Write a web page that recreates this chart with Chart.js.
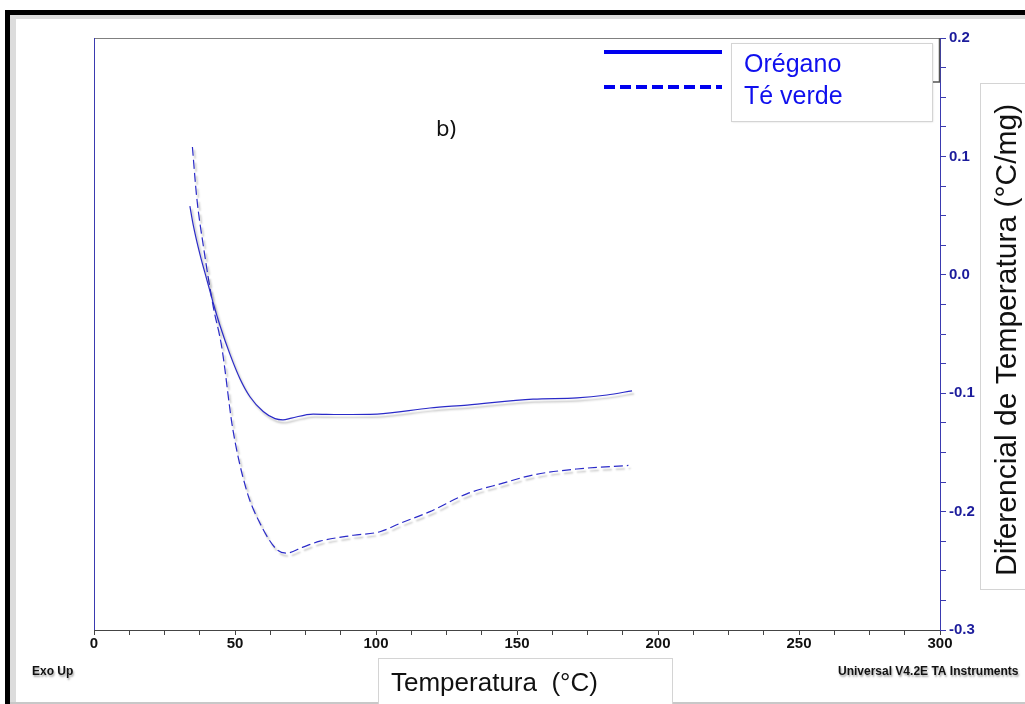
<!DOCTYPE html>
<html>
<head>
<meta charset="utf-8">
<script src="https://cdn.jsdelivr.net/npm/chart.js"></script>
<style>
  html, body { margin: 0; padding: 0; background: #fff; }
  #wrap { width: 1025px; height: 704px; position: relative; }
</style>
</head>
<body>
<div id="wrap"><canvas id="myChart"></canvas></div>
<script>
// temperatures (°C) and heat flow values
const oreganoTemp = [34.0, 35.2, 37.6, 40.0, 42.3, 44.7, 48.2, 51.8, 55.3, 60.0, 64.2, 67.0, 70.0, 77.7, 87.2, 100.4, 119.1, 132.3, 155.7, 171.3, 181.9, 190.8];
const oreganoVals = [0.058, 0.042, 0.017, -0.004, -0.024, -0.043, -0.067, -0.088, -0.103, -0.1155, -0.1215, -0.1225, -0.121, -0.1176, -0.118, -0.1176, -0.1125, -0.110, -0.105, -0.104, -0.1015, -0.098];

const teTemp = [34.9, 36.4, 38.8, 42.3, 45.3, 49.2, 54.1, 58.9, 64.8, 68.3, 74.1, 80.1, 92.0, 101.4, 108.5, 119.1, 132.2, 145.0, 155.8, 171.2, 189.5];
const teVals = [0.108, 0.066, 0.024, -0.027, -0.061, -0.13, -0.182, -0.21, -0.232, -0.235, -0.23, -0.225, -0.220, -0.217, -0.21, -0.200, -0.185, -0.176, -0.169, -0.164, -0.161];

const seriesNames = ['Orégano', 'Té verde'];
const xLabelsAt = [0, 50, 100, 150, 200, 250, 300];
const yLabelsAt = [0.2, 0.1, 0.0, -0.1, -0.2, -0.3];

const xTitle = 'Temperatura  (°C)';
const yTitle = 'Diferencial de Temperatura (°C/mg)';
const lineColor = '#2a2ac8';

function toPoints(xs, ys) {
  return xs.map((x, i) => ({x: x, y: ys[i]}));
}

// page frame, boxes and loose texts
const decor = {
  id: 'decor',
  beforeDraw(chart) {
    const c = chart.ctx;
    c.save();
    c.fillStyle = '#fff';
    c.fillRect(0, 0, chart.width, chart.height);
    // shadow inside frame
    c.fillStyle = '#dcdcdc';
    c.fillRect(10, 15, 6, 689);
    c.fillRect(10, 15, 1015, 4);
    c.fillStyle = '#000';
    c.fillRect(5, 10, 1020, 5);
    c.fillRect(5, 10, 5, 694);
    c.fillStyle = '#c8c8c8';
    c.fillRect(10, 702, 1015, 2);
    c.restore();
  },
  beforeDatasetsDraw(chart) {
    const c = chart.ctx;
    c.save();
    c.shadowColor = 'rgba(0,0,0,0.28)';
    c.shadowOffsetX = 2;
    c.shadowOffsetY = 3;
    c.shadowBlur = 2;
  },
  afterDatasetsDraw(chart) {
    chart.ctx.restore();
  },
  afterDraw(chart) {
    const c = chart.ctx;
    const a = chart.chartArea;
    const ds = chart.data.datasets;
    c.save();

    // plot frame top + left
    c.lineWidth = 1;
    c.strokeStyle = '#808080';
    c.beginPath();
    c.moveTo(a.left, a.top + 0.5);
    c.lineTo(a.right, a.top + 0.5);
    c.stroke();
    c.strokeStyle = '#3a3ab0';
    c.beginPath();
    c.moveTo(a.left + 0.5, a.top);
    c.lineTo(a.left + 0.5, a.bottom);
    c.stroke();

    // box behind the legend at the top right corner
    c.strokeStyle = '#555';
    c.lineWidth = 1.5;
    c.beginPath();
    c.moveTo(939.5, 38);
    c.lineTo(939.5, 82);
    c.lineTo(932, 82);
    c.stroke();

    // legend
    c.shadowColor = 'rgba(0,0,0,0.15)';
    c.shadowOffsetX = 1;
    c.shadowOffsetY = 1;
    c.shadowBlur = 2;
    c.fillStyle = '#fff';
    c.fillRect(731, 43, 201, 78);
    c.shadowColor = 'transparent';
    c.strokeStyle = '#d4d4d4';
    c.lineWidth = 1;
    c.strokeRect(731.5, 43.5, 201, 78);

    c.strokeStyle = '#0000ee';
    c.lineWidth = 4;
    c.setLineDash([]);
    c.beginPath();
    c.moveTo(604, 52);
    c.lineTo(722, 52);
    c.stroke();
    c.setLineDash([11, 5]);
    c.beginPath();
    c.moveTo(604, 87);
    c.lineTo(722, 87);
    c.stroke();
    c.setLineDash([]);
    c.lineWidth = 1;

    c.fillStyle = '#1010ee';
    c.font = '25px "Liberation Sans", Arial, sans-serif';
    c.textBaseline = 'middle';
    c.textAlign = 'left';
    c.fillText(ds[0].label, 744, 65);
    c.fillText(ds[1].label, 744, 97);

    // panel letter
    c.fillStyle = '#111';
    c.font = '22px "Noto Sans", Lato, sans-serif';
    c.fillText('b)', 436, 130);

    // instrument notes
    c.shadowColor = 'rgba(0,0,0,0.35)';
    c.shadowOffsetX = 1;
    c.shadowOffsetY = 2;
    c.shadowBlur = 2;
    c.fillStyle = '#111';
    c.font = 'bold 12px "Liberation Sans", Arial, sans-serif';
    c.fillText('Exo Up', 32, 672);
    c.fillText('Universal V4.2E TA Instruments', 838, 672);
    c.shadowColor = 'transparent';

    // x title box
    c.fillStyle = '#fff';
    c.fillRect(378, 658, 295, 50);
    c.strokeStyle = '#d4d4d4';
    c.lineWidth = 1;
    c.strokeRect(378.5, 658.5, 294, 50);
    c.fillStyle = '#111';
    c.font = '26px "Liberation Sans", Arial, sans-serif';
    c.fillText(xTitle, 391, 684);

    // y title box
    c.fillStyle = '#fff';
    c.fillRect(980, 83, 60, 507);
    c.strokeRect(980.5, 83.5, 60, 506);
    c.fillStyle = '#111';
    c.font = '30px "Liberation Sans", Arial, sans-serif';
    c.translate(1016, 576);
    c.rotate(-Math.PI / 2);
    c.textBaseline = 'alphabetic';
    c.fillText(yTitle, 0, 0);
    c.restore();
  }
};

const ctx = document.getElementById('myChart').getContext('2d');
const myChart = new Chart(ctx, {
  type: 'line',
  data: {
    datasets: [
      {
        label: seriesNames[0],
        data: toPoints(oreganoTemp, oreganoVals),
        borderColor: lineColor,
        borderWidth: 1.2,
        pointRadius: 0,
        cubicInterpolationMode: 'monotone',
        fill: false
      },
      {
        label: seriesNames[1],
        data: toPoints(teTemp, teVals),
        borderColor: lineColor,
        borderWidth: 1.2,
        borderDash: [9, 4],
        pointRadius: 0,
        cubicInterpolationMode: 'monotone',
        fill: false
      }
    ]
  },
  options: {
    responsive: true,
    maintainAspectRatio: false,
    animation: false,
    layout: { padding: { left: 94, top: 38, right: 45, bottom: 52 } },
    plugins: { legend: { display: false }, tooltip: { enabled: false } },
    scales: {
      x: {
        type: 'linear',
        min: 0,
        max: 300,
        afterFit(scale) { scale.height = 22; },
        afterBuildTicks(scale) {
          scale.ticks = [];
          for (let v = 0; v <= 300; v += 12.5) scale.ticks.push({value: v});
        },
        ticks: {
          autoSkip: false,
          maxRotation: 0,
          padding: 0,
          color: '#111',
          font: { family: '"Liberation Sans", Arial, sans-serif', size: 15, weight: 'bold' },
          callback: (v) => xLabelsAt.includes(v) ? String(v) : ''
        },
        grid: { drawOnChartArea: false, tickLength: 5, color: '#444' },
        border: { color: '#444', width: 1 }
      },
      y: {
        type: 'linear',
        position: 'right',
        min: -0.3,
        max: 0.2,
        afterFit(scale) { scale.width = 40; },
        afterBuildTicks(scale) {
          scale.ticks = [];
          for (let i = -12; i <= 8; i++) scale.ticks.push({value: i * 0.025});
        },
        ticks: {
          autoSkip: false,
          padding: 3,
          color: '#1c1c9c',
          font: { family: '"Liberation Sans", Arial, sans-serif', size: 15, weight: 'bold' },
          callback: (v) => yLabelsAt.some(t => Math.abs(t - v) < 1e-9) ? v.toFixed(1) : ''
        },
        grid: { drawOnChartArea: false, tickLength: 6, color: '#3a3ab0' },
        border: { color: '#3a3ab0', width: 1 }
      }
    }
  },
  plugins: [decor]
});
</script>
</body>
</html>
